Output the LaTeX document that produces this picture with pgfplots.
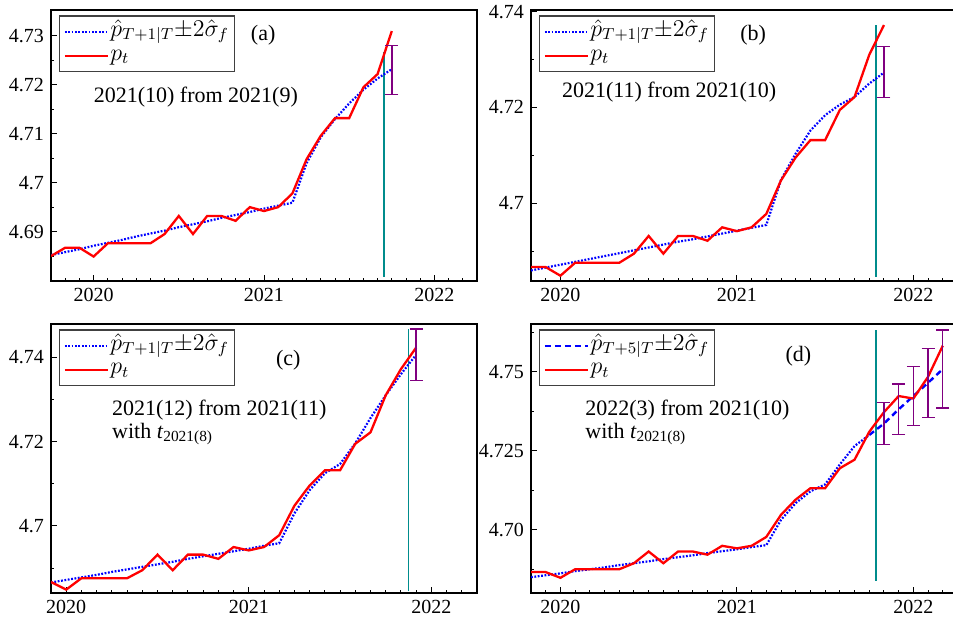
\documentclass[border=0pt]{standalone}
\usepackage{fontspec}
\setmainfont{Liberation Serif}
\usepackage{pgfplots}
\usepackage{pgfplotstable}
\pgfplotsset{compat=1.18}
\definecolor{vio}{RGB}{128,0,128}
\definecolor{tealc}{RGB}{0,140,140}

\pgfplotstableread{
m p
-3 4.6850
-2 4.6867
-1 4.6867
0 4.6849
1 4.6876
2 4.6876
3 4.6876
4 4.6876
5 4.6895
6 4.6932
7 4.6895
8 4.6932
9 4.6932
10 4.6922
11 4.6950
12 4.6942
13 4.6950
14 4.6978
15 4.7048
16 4.7096
17 4.7132
18 4.7132
19 4.7195
20 4.7222
21 4.7310
22 4.7372
23 4.7423
24 4.7415
25 4.7484
26 4.7582
}\actual

\tikzset{ann/.style={font=\fontsize{11}{13}\selectfont}}
\pgfplotsset{
 panel/.style={scale only axis, anchor=south west, tick pos=left, tick align=inside,
  major tick length=3pt, minor tick length=1.6pt,
  xtick={0,12,24}, xticklabels={2020,2021,2022}, minor xtick={-3,...,27},
  xmax=27,
  tick label style={font=\fontsize{10}{12}\selectfont},
  /pgf/number format/assume math mode=true,
  axis line style={line width=0.6pt},
  tick style={black, line width=0.5pt},
  legend style={at={(0.019,0.98)}, anchor=north west, draw=black!75, line width=0.6pt,
    inner sep=2pt, font=\fontsize{11.5}{12}\selectfont, row sep=0pt, cells={anchor=west},
    nodes={inner sep=0.6pt, text height=7.5pt, text depth=3.2pt}},
  legend image code/.code={\draw[##1] (0cm,0cm) -- (0.76cm,0cm);},
 },
 fit/.style={blue, line width=1.1pt, dash pattern=on 0.9pt off 0.8pt},
 fc/.style={blue, line width=1.2pt, dash pattern=on 3pt off 2pt},
 act/.style={red, line width=1.15pt},
 vl/.style={tealc, line width=0.7pt},
 eb/.style={draw=none, mark=none, error bars/.cd, y dir=both, y explicit,
   error bar style={draw=vio, line width=0.7pt},
   error mark options={rotate=90, mark size=3.25pt, line width=0.7pt, draw=vio}},
}
\newcommand{\fleg}[1]{$\hat{p}_{T+#1|T}{\pm}2\hat{\sigma}_f$}

\begin{document}
\begin{tikzpicture}
\useasboundingbox (0,0) rectangle (476.5pt,310.5pt);

% ---------------- (a)
\begin{axis}[panel, at={(25.5pt,170pt)}, width=213pt, height=135.5pt,
  xmin=-3, ymin=4.6799, ymax=4.7353,
  ytick={4.69,4.70,4.71,4.72,4.73}, yticklabels={4.69,4.7,4.71,4.72,4.73},
  minor ytick={4.685,4.695,4.705,4.715,4.725}]
\addplot[vl, forget plot] coordinates {(20.45,4.6808) (20.45,4.7268)};
\addplot[fit] coordinates {(-3,4.6852) (-2,4.6858) (-1,4.6864) (0,4.6871) (1,4.6877) (2,4.6883) (3,4.6890) (4,4.6896) (5,4.6902) (6,4.6909) (7,4.6915) (8,4.6921) (9,4.6928) (10,4.6934) (11,4.6940) (12,4.6947) (13,4.6953) (14,4.6959) (15,4.7040) (16,4.7093) (17,4.7130) (18,4.7162) (19,4.7190) (20,4.7213) (21,4.7232)};
\addlegendentry{\fleg{1}}
\addplot[act, restrict x to domain=-3:21] table[x=m,y=p] {\actual};
\addlegendentry{$p_t$}
\addplot[forget plot, eb] coordinates {(21,4.7230) +- (0,0.0050)};
\node[ann] at (rel axis cs:0.498,0.907) {(a)};
\node[ann, anchor=base] at (rel axis cs:0.340,0.658) {2021(10) from 2021(9)};
\end{axis}

% ---------------- (b)
\begin{axis}[panel, at={(265.5pt,170pt)}, width=213.25pt, height=135.5pt,
  xmin=-2, ymin=4.6838, ymax=4.74035,
  ytick={4.70,4.72,4.74}, yticklabels={4.7,4.72,4.74},
  minor ytick={4.69,4.71,4.73}]
\addplot[vl, forget plot] coordinates {(21.46,4.6847) (21.46,4.7372)};
\addplot[fit] coordinates {(-2,4.6860) (-1,4.6866) (0,4.6872) (1,4.6878) (2,4.6884) (3,4.6890) (4,4.6896) (5,4.6902) (6,4.6908) (7,4.6914) (8,4.6920) (9,4.6925) (10,4.6931) (11,4.6937) (12,4.6943) (13,4.6949) (14,4.6955) (15,4.7049) (16,4.7104) (17,4.7152) (18,4.7184) (19,4.7206) (20,4.7222) (21,4.7250) (22,4.7273)};
\addlegendentry{\fleg{1}}
\addplot[act, restrict x to domain=-2:22] table[x=m,y=p] {\actual};
\addlegendentry{$p_t$}
\addplot[forget plot, eb] coordinates {(22,4.7274) +- (0,0.0053)};
\node[ann] at (rel axis cs:0.521,0.908) {(b)};
\node[ann, anchor=base] at (rel axis cs:0.324,0.678) {2021(11) from 2021(10)};
\end{axis}

% ---------------- (c)
\begin{axis}[panel, at={(25.5pt,14pt)}, width=213pt, height=134.5pt,
  xmin=-1, ymin=4.6841, ymax=4.7479,
  ytick={4.70,4.72,4.74}, yticklabels={4.7,4.72,4.74},
  minor ytick={4.69,4.71,4.73}]
\addplot[vl, forget plot] coordinates {(22.5,4.6845) (22.5,4.7466)};
\addplot[fit] coordinates {(-1,4.6866) (0,4.6872) (1,4.6878) (2,4.6884) (3,4.6891) (4,4.6897) (5,4.6903) (6,4.6909) (7,4.6915) (8,4.6922) (9,4.6928) (10,4.6934) (11,4.6940) (12,4.6946) (13,4.6953) (14,4.6959) (15,4.7030) (16,4.7085) (17,4.7125) (18,4.7147) (19,4.7196) (20,4.7256) (21,4.7310) (22,4.7360) (23,4.7406)};
\addlegendentry{\fleg{1}}
\addplot[act, restrict x to domain=-1:23] table[x=m,y=p] {\actual};
\addlegendentry{$p_t$}
\addplot[forget plot, eb] coordinates {(23,4.7406) +- (0,0.0061)};
\node[ann] at (rel axis cs:0.557,0.864) {(c)};
\node[ann, anchor=base west] at (rel axis cs:0.127,0.658) {2021(12) from 2021(11)};
\node[ann, anchor=base west] at (rel axis cs:0.127,0.575) {with \textit{t}\textsubscript{2021(8)}};
\end{axis}

% ---------------- (d)
\begin{axis}[panel, at={(265.5pt,14pt)}, width=213.25pt, height=134.5pt,
  xmin=-2, ymin=4.6801, ymax=4.76505,
  ytick={4.70,4.725,4.75}, yticklabels={4.70,4.725,4.75},
  minor ytick={4.6875,4.7125,4.7375,4.7625}]
\addplot[vl, forget plot] coordinates {(21.46,4.6840) (21.46,4.7631)};
\addplot[fit, forget plot] coordinates {(-2,4.6851) (-1,4.6857) (0,4.6863) (1,4.6870) (2,4.6876) (3,4.6882) (4,4.6889) (5,4.6895) (6,4.6901) (7,4.6908) (8,4.6914) (9,4.6920) (10,4.6927) (11,4.6933) (12,4.6939) (13,4.6946) (14,4.6952) (15,4.7032) (16,4.7085) (17,4.7122) (18,4.7144) (19,4.7207) (20,4.7265) (21,4.7300)};
\addplot[fc] coordinates {(21,4.7300) (22,4.7336) (23,4.7381) (24,4.7423) (25,4.7465) (26,4.7508)};
\addlegendentry{\fleg{5}}
\addplot[act, restrict x to domain=-2:26] table[x=m,y=p] {\actual};
\addlegendentry{$p_t$}
\addplot[forget plot, eb] coordinates {(22,4.7336) +- (0,0.0067) (23,4.7381) +- (0,0.0080) (24,4.7423) +- (0,0.0093) (25,4.7465) +- (0,0.0109) (26,4.7508) +- (0,0.0123)};
\node[ann] at (rel axis cs:0.627,0.881) {(d)};
\node[ann, anchor=base west] at (rel axis cs:0.111,0.658) {2022(3) from 2021(10)};
\node[ann, anchor=base west] at (rel axis cs:0.111,0.575) {with \textit{t}\textsubscript{2021(8)}};
\end{axis}
\end{tikzpicture}
\end{document}
